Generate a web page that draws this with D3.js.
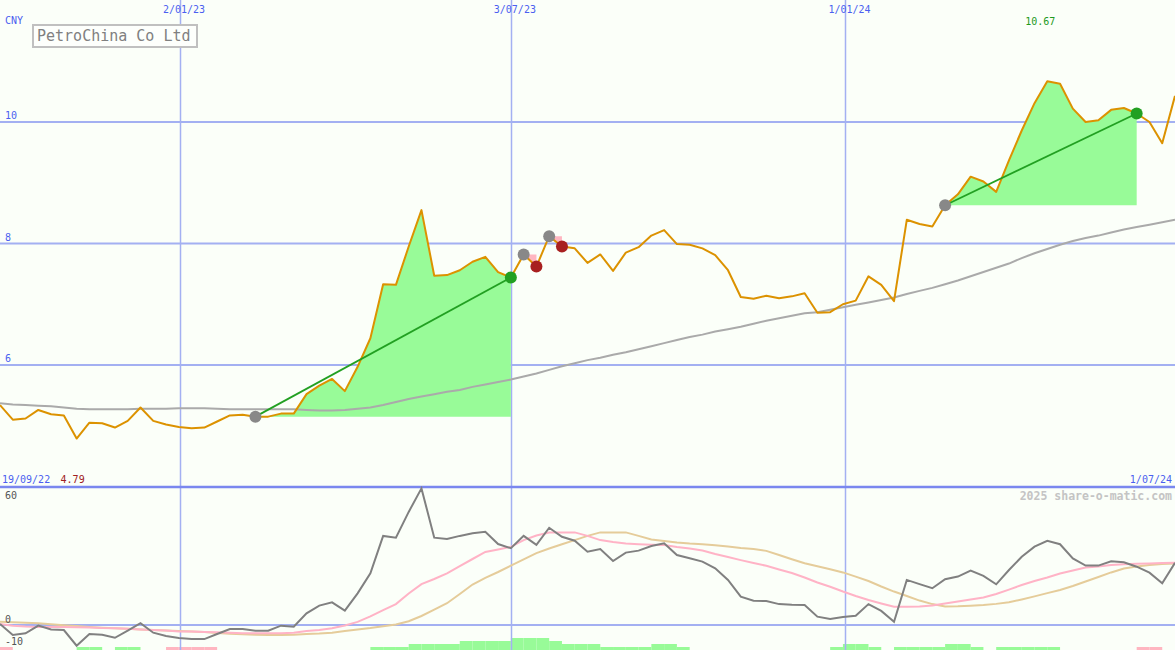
<!DOCTYPE html>
<html><head><meta charset="utf-8">
<script src="https://cdn.jsdelivr.net/npm/d3@7/dist/d3.min.js"></script>
<style>
html,body{margin:0;padding:0;background:#fbfff9;}
svg{display:block;}
text{font-family:"DejaVu Sans Mono","Liberation Mono",monospace;}
</style></head>
<body><svg id="c" width="1175" height="650"></svg>
<script>
// ---------- data (weekly) ----------
const title = "PetroChina Co Ltd";
const currency = "CNY";
const startLabel = "19/09/22";
const endLabel = "1/07/24";
const copyright = "2025 share-o-matic.com";
const priceVals = [5.34,5.10,5.12,5.26,5.19,5.17,4.79,5.05,5.04,4.97,
 5.08,5.30,5.08,5.02,4.98,4.96,4.97,5.07,5.17,5.18,
 5.15,5.15,5.20,5.20,5.52,5.66,5.77,5.57,5.97,6.44,
 7.33,7.32,7.95,8.55,7.47,7.48,7.56,7.70,7.78,7.53,
 7.44,7.82,7.62,8.12,7.95,7.92,7.68,7.82,7.55,7.85,
 7.94,8.13,8.22,7.99,7.98,7.92,7.81,7.56,7.12,7.09,
 7.14,7.10,7.13,7.18,6.86,6.87,7.00,7.06,7.46,7.32,
 7.05,8.39,8.32,8.28,8.63,8.81,9.10,9.02,8.85,9.37,
 9.86,10.31,10.67,10.63,10.22,10.00,10.03,10.20,10.23,10.14,
 10.00,9.65,10.43];
const maVals = [5.37,5.35,5.34,5.33,5.32,5.30,5.28,5.27,5.27,5.27,
 5.27,5.28,5.28,5.28,5.29,5.29,5.29,5.28,5.27,5.27,
 5.27,5.27,5.27,5.27,5.26,5.25,5.25,5.26,5.28,5.30,
 5.34,5.39,5.44,5.48,5.52,5.56,5.59,5.64,5.68,5.72,
 5.76,5.81,5.86,5.92,5.98,6.03,6.08,6.12,6.17,6.21,
 6.26,6.31,6.36,6.41,6.46,6.50,6.55,6.59,6.63,6.68,
 6.73,6.77,6.81,6.85,6.87,6.91,6.95,6.99,7.03,7.07,
 7.11,7.17,7.22,7.27,7.33,7.39,7.46,7.53,7.60,7.67,
 7.76,7.84,7.91,7.98,8.04,8.09,8.13,8.18,8.23,8.27,
 8.31,8.35,8.39];
const oscVals = [0.5,-4.5,-3.8,-0.3,-2.0,-2.3,-9.4,-4.1,-4.4,-5.8,
 -2.6,0.8,-3.5,-5.0,-5.9,-6.4,-6.4,-4.1,-1.8,-1.8,
 -2.6,-2.6,-0.3,-0.8,5.3,8.8,10.3,6.5,14.4,23.5,
 40.5,39.7,51.4,62.1,39.7,39.1,40.5,41.7,42.4,36.8,
 34.9,40.5,36.4,44.2,40.1,38.3,33.3,34.5,29.1,32.9,
 33.8,35.9,37.1,31.8,30.3,28.8,25.8,20.5,12.9,11.0,
 10.9,9.5,9.2,9.1,3.8,2.7,3.6,4.2,9.5,6.4,
 1.5,20.5,18.6,16.7,20.8,22.0,24.7,22.3,18.5,25.0,
 31.0,35.6,38.3,36.7,30.3,27.0,27.0,29.0,28.5,26.5,
 23.8,19.0,28.3];
const oscFast = [0.5,-0.3,-0.7,-0.9,-0.9,-0.9,-1.0,-1.1,-1.4,-1.5,
 -1.7,-2.0,-2.3,-2.5,-2.9,-3.0,-3.2,-3.3,-3.5,-3.8,
 -3.8,-3.8,-3.8,-3.5,-2.7,-2.3,-1.5,-0.2,1.4,3.9,
 6.8,9.5,14.3,18.6,20.9,23.5,26.8,30.0,33.2,34.3,
 35.5,38.6,40.7,42.0,42.1,42.1,40.5,38.6,37.7,37.0,
 36.7,36.5,36.4,35.5,34.8,33.9,32.3,30.9,29.5,28.2,
 26.9,25.2,23.6,21.6,19.3,17.4,15.2,13.2,11.4,9.8,
 8.3,8.3,8.4,8.9,9.8,10.7,11.6,12.5,14.1,16.1,
 18.2,20.0,21.6,23.4,24.8,26.1,26.6,27.3,27.6,27.8,
 28.0,28.2,28.3];
const oscSlow = [1.5,1.3,1.0,0.8,0.3,-0.1,-0.5,-0.9,-1.2,-1.5,
 -1.7,-2.0,-2.3,-2.5,-2.7,-2.9,-3.2,-3.6,-4.0,-4.2,
 -4.4,-4.5,-4.5,-4.4,-4.1,-3.9,-3.5,-2.7,-2.0,-1.4,
 -0.6,0.2,1.7,4.1,7.0,9.9,14.1,18.4,21.4,24.1,
 27.0,29.8,32.7,34.8,36.7,38.6,40.5,42.1,42.1,42.1,
 40.5,38.9,38.2,37.5,37.0,36.7,36.3,35.7,35.0,34.5,
 33.7,31.8,29.9,28.1,26.7,25.3,23.9,22.0,20.0,17.5,
 15.2,13.2,11.1,9.5,8.4,8.5,8.8,9.1,9.6,10.3,
 11.6,13.0,14.5,15.9,17.7,19.8,21.8,23.9,25.7,26.6,
 27.3,27.7,28.0];
const barLevels = [-1,0,0,0,0,0,1,1,0,1,
 1,0,0,-1,-1,-1,-1,0,0,0,
 0,0,0,0,0,0,0,0,0,1,
 1,1,2,2,2,2,3,3,3,3,
 4,4,4,3,2,2,2,1,1,1,
 1,2,2,1,0,0,0,0,0,0,
 0,0,0,0,0,1,2,2,1,0,
 1,1,1,1,2,2,1,0,1,1,
 1,1,1,0,0,0,0,0,0,-1,
 -1,0,0];
// date gridlines: label and (fractional) week position
const dateLabels = ["2/01/23","3/07/23","1/01/24"];
const datePos = [14.1, 40, 66.2];
const priceTicks = [10, 8, 6];
const oscTicks = [60, 0, -10];
// trade signals: start week, end week, outcome
const signalStart = [20, 41, 43, 74];
const signalEnd   = [40, 42, 44, 89];
const signalWin   = [true, false, false, true];

// ---------- drawing ----------
const W = 1175, H = 650, splitY = 487;
const svg = d3.select("#c");
const n = priceVals.length;
const x = d3.scaleLinear().domain([0, n - 1]).range([0, W]);
const y = d3.scaleLinear().domain([6, 10]).range([365, 122]);
const yo = d3.scaleLinear().domain([0, 60]).range([625, 493]);
const yb = d3.scaleLinear().domain([0, 4]).range([650, 638]);
const idx = d3.range(n);

const gridC = "#a3b0f2", labC = "#4b5ff0";
svg.append("rect").attr("width", W).attr("height", H).attr("fill", "#fbfff9");

// bars at bottom of oscillator
svg.append("g").selectAll("rect").data(idx.filter(i => barLevels[i] !== 0)).join("rect")
  .attr("x", i => x(i)).attr("width", i => x(i + 1) - x(i))
  .attr("y", i => yb(Math.abs(barLevels[i])))
  .attr("height", i => yb(0) - yb(Math.abs(barLevels[i])))
  .attr("fill", i => barLevels[i] > 0 ? "#98fb98" : "#ffb6c1");

// horizontal price gridlines
svg.append("g").selectAll("line").data(priceTicks).join("line")
  .attr("x1", 0).attr("x2", W).attr("y1", d => y(d)).attr("y2", d => y(d))
  .attr("stroke", gridC).attr("stroke-width", 2);
// oscillator zero line
svg.append("line").attr("x1", 0).attr("x2", W).attr("y1", yo(0)).attr("y2", yo(0))
  .attr("stroke", gridC).attr("stroke-width", 2);
// vertical date gridlines
svg.append("g").selectAll("line").data(datePos).join("line")
  .attr("x1", d => Math.round(x(d)) + 0.5).attr("x2", d => Math.round(x(d)) + 0.5)
  .attr("y1", 0).attr("y2", H).attr("stroke", gridC).attr("stroke-width", 1.5);
// panel separator
svg.append("line").attr("x1", 0).attr("x2", W).attr("y1", splitY).attr("y2", splitY)
  .attr("stroke", "#7a87ef").attr("stroke-width", 2.5);

// signal fills
signalStart.forEach((s, k) => {
  const e = signalEnd[k];
  const base = priceVals[s];
  const seg = d3.range(s, e + 1);
  const area = d3.area().x(i => x(i)).y0(y(base)).y1(i => y(priceVals[i]));
  svg.append("path").datum(seg).attr("d", area)
    .attr("fill", signalWin[k] ? "#98fb98" : "#ffb6c1");
});

// moving average
const line = (arr, ys) => d3.line().x(i => x(i)).y(i => ys(arr[i]));
svg.append("path").datum(idx).attr("d", line(maVals, y))
  .attr("fill", "none").attr("stroke", "#aaaaaa").attr("stroke-width", 2);
// price
svg.append("path").datum(idx).attr("d", line(priceVals, y))
  .attr("fill", "none").attr("stroke", "#dc9200").attr("stroke-width", 2).attr("stroke-linejoin", "round");

// signal trend lines and markers
signalStart.forEach((s, k) => {
  const e = signalEnd[k];
  if (signalWin[k]) {
    svg.append("line").attr("x1", x(s)).attr("y1", y(priceVals[s]))
      .attr("x2", x(e)).attr("y2", y(priceVals[e]))
      .attr("stroke", "#22a022").attr("stroke-width", 1.8);
  }
  svg.append("circle").attr("cx", x(s)).attr("cy", y(priceVals[s])).attr("r", 6).attr("fill", "#888888");
  svg.append("circle").attr("cx", x(e)).attr("cy", y(priceVals[e])).attr("r", 6)
    .attr("fill", signalWin[k] ? "#22a022" : "#a82020");
});

// oscillator lines
svg.append("path").datum(idx).attr("d", line(oscSlow, yo))
  .attr("fill", "none").attr("stroke", "#e5cc9a").attr("stroke-width", 2);
svg.append("path").datum(idx).attr("d", line(oscFast, yo))
  .attr("fill", "none").attr("stroke", "#ffb3c6").attr("stroke-width", 2);
svg.append("path").datum(idx).attr("d", line(oscVals, yo))
  .attr("fill", "none").attr("stroke", "#808080").attr("stroke-width", 2);

// ---------- text ----------
const txt = (s, tx, ty, col, anchor, size, weight) =>
  svg.append("text").text(s).attr("x", tx).attr("y", ty).attr("fill", col)
    .attr("text-anchor", anchor || "start").attr("font-size", size || 10)
    .attr("font-weight", weight || "normal");

dateLabels.forEach((l, k) => txt(l, x(datePos[k]) + 4, 13, labC, "middle"));
txt(currency, 5, 24, labC);
priceTicks.forEach(t => txt(String(t), 5, y(t) - 3, labC));
txt(startLabel, 2, 483, labC);
txt(endLabel, 1172, 483, labC, "end");
const iMin = d3.minIndex(priceVals), iMax = d3.maxIndex(priceVals);
txt(priceVals[iMin].toFixed(2), x(iMin) - 4, 483, "#a02020", "middle");
txt(priceVals[iMax].toFixed(2), x(iMax) - 7, 25, "#1e9a1e", "middle");
oscTicks.forEach(t => txt(String(t), 5, Math.max(yo(t) - 2, 499), "#555555"));
txt(copyright, 1172, 500, "#c4c4c4", "end", 11.5, "bold");

// title box
svg.append("rect").attr("x", 33).attr("y", 25).attr("width", 164).attr("height", 22)
  .attr("fill", "#fdfffc").attr("stroke", "#c0c0c0").attr("stroke-width", 2);
txt(title, 37, 41, "#808080", "start", 15);
</script></body></html>
